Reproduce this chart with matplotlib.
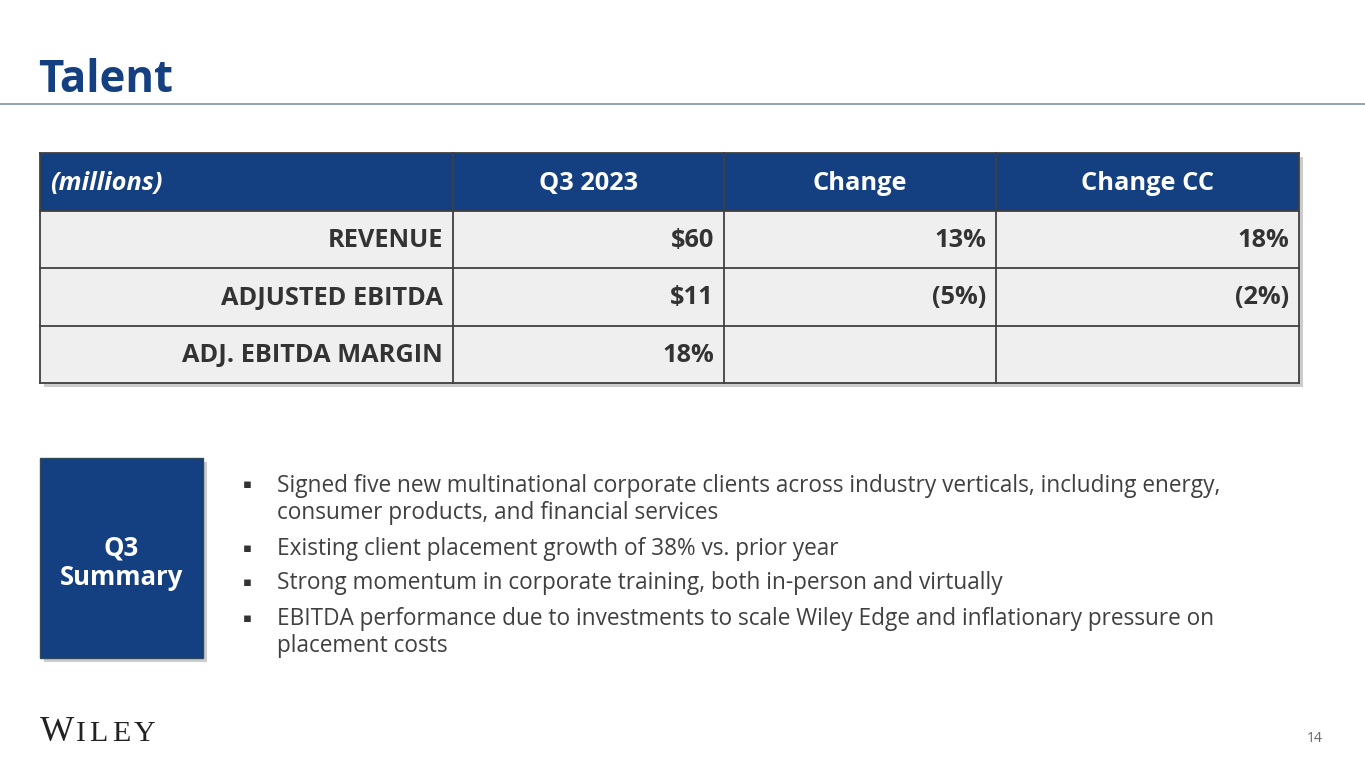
import matplotlib
matplotlib.use("Agg")
import matplotlib.pyplot as plt
from matplotlib.patches import Rectangle

# ---- data ----
header = ["(millions)", "Q3 2023", "Change", "Change CC"]
row_labels = ["REVENUE", "ADJUSTED EBITDA", "ADJ. EBITDA MARGIN"]
q3_2023 = ["$60", "$11", "18%"]
change = ["13%", "(5%)", ""]
change_cc = ["18%", "(2%)", ""]
bullets = [
    "Signed five new multinational corporate clients across industry verticals, including energy,\nconsumer products, and financial services",
    "Existing client placement growth of 38% vs. prior year",
    "Strong momentum in corporate training, both in-person and virtually",
    "EBITDA performance due to investments to scale Wiley Edge and inflationary pressure on\nplacement costs",
]
title = "Talent"
page_no = "14"
logo = "WILEY"

NAVY = "#143F80"
GRID = "#404040"
ROWBG = "#EFEFEF"
TXT = "#333333"

W, H = 1365, 768
fig = plt.figure(figsize=(W / 100, H / 100), dpi=100)
ax = fig.add_axes([0, 0, 1, 1])
ax.set_xlim(0, W)
ax.set_ylim(H, 0)
ax.axis("off")

FONT = "Open Sans"

# title and rule
ax.text(38, 92, title, fontsize=31.5, fontweight="bold", color=NAVY, family=FONT, va="baseline", ha="left")
ax.plot([0, W], [104, 104], color="#8A9BA8", lw=1.3)

# table geometry
cols = [40, 453, 724, 996, 1299]
rows = [153, 211, 268, 326, 383]

ax.add_patch(Rectangle((cols[0] + 4, rows[0] + 4), cols[-1] - cols[0], rows[-1] - rows[0],
                       facecolor="#9a9a9a", edgecolor="none", alpha=0.5, zorder=1))
ax.add_patch(Rectangle((cols[0], rows[0]), cols[-1] - cols[0], rows[1] - rows[0],
                       facecolor=NAVY, edgecolor="none", zorder=2))
ax.add_patch(Rectangle((cols[0], rows[1]), cols[-1] - cols[0], rows[-1] - rows[1],
                       facecolor=ROWBG, edgecolor="none", zorder=2))
for x in cols:
    ax.plot([x, x], [rows[0], rows[-1]], color=GRID, lw=1.3, zorder=3)
for y in rows:
    ax.plot([cols[0], cols[-1]], [y, y], color=GRID, lw=1.3, zorder=3)

TFS = 18.3
hy = (rows[0] + rows[1]) / 2 + 2
ax.text(cols[0] + 10, hy, header[0], fontsize=TFS, fontweight="bold", fontstyle="italic",
        color="white", family=FONT, ha="left", va="center", zorder=4)
for j in range(1, 4):
    ax.text((cols[j] + cols[j + 1]) / 2, hy, header[j], fontsize=TFS, fontweight="bold",
            color="white", family=FONT, ha="center", va="center", zorder=4)

table_cols = [row_labels, q3_2023, change, change_cc]
for i in range(3):
    cy = (rows[i + 1] + rows[i + 2]) / 2 + 1
    for j in range(4):
        ax.text(cols[j + 1] - 10, cy, table_cols[j][i], fontsize=TFS, fontweight="bold",
                color=TXT, family=FONT, ha="right", va="center", zorder=4)

# summary box
bx, by, bw, bh = 40, 458, 163, 200
ax.add_patch(Rectangle((bx + 4, by + 4), bw, bh, facecolor="#9a9a9a", edgecolor="none", alpha=0.5, zorder=1))
ax.add_patch(Rectangle((bx, by), bw, bh, facecolor=NAVY, edgecolor="#2f4a5a", lw=1, zorder=2))
ax.text(bx + bw / 2, by + bh / 2 + 4.5, "Q3\nSummary", fontsize=18.5, fontweight="bold", color="white",
        family=FONT, ha="center", va="center", linespacing=1.12, zorder=3)

# bullets
bullet_y = [485, 548, 582, 618]
for y, b in zip(bullet_y, bullets):
    ax.text(243, y, "\u25AA", fontsize=9.5, color=TXT, family="DejaVu Sans", ha="left", va="center")
    ax.text(277, y - 11, b, fontsize=16.3, color="#404040", family=FONT, ha="left", va="top",
            linespacing=1.17)

# logo: letters laid out one after another with extra tracking
renderer = fig.canvas.get_renderer()
x = 40.0
for k, ch in enumerate(logo):
    fs = 26 if k == 0 else 21.5
    t = ax.text(x, 741, ch, fontsize=fs, color="#222222", family="Liberation Serif",
                ha="left", va="baseline")
    bb = t.get_window_extent(renderer=renderer)
    x = x + bb.width + (1.5 if k == 0 else 4.0)

# page number
ax.text(1323, 742, page_no, fontsize=10, color="#666666", family=FONT, ha="right", va="baseline")

fig.savefig("out.png", dpi=100)
